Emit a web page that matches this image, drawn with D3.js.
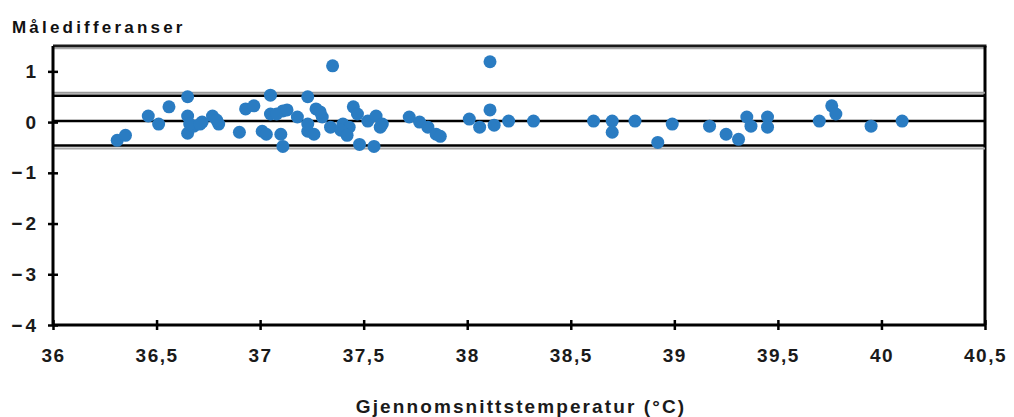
<!DOCTYPE html>
<html>
<head>
<meta charset="utf-8">
<script src="https://cdn.jsdelivr.net/npm/d3@7"></script>
<style>
  body { margin: 0; background: #fff; }
  svg { display: block; font-family: "Liberation Sans", Arial, sans-serif; }
</style>
</head>
<body>
<svg id="chart" width="1014" height="417"></svg>
<script>
// data
var temps = [36.31, 36.35, 36.46, 36.51, 36.56, 36.65, 36.65, 36.65, 36.68, 36.72,
  36.77, 36.80, 36.90, 36.93, 36.97, 37.05, 37.05, 37.01, 37.11, 37.10,
  37.11, 37.18, 37.23, 37.23, 37.27, 37.30, 37.34, 37.26, 37.35, 37.40,
  37.45, 37.43, 37.48, 37.55, 37.52, 37.56, 37.59, 37.72, 37.77, 37.81,
  37.85, 37.87, 38.11, 38.01, 38.11, 38.06, 38.13, 38.20, 38.32, 38.61,
  38.70, 38.70, 38.81, 38.92, 38.99, 39.17, 39.25, 39.31, 39.35, 39.37,
  39.45, 39.45, 39.70, 39.76, 39.78, 39.95, 40.10,
  36.66, 36.71, 36.79, 37.03, 37.08, 37.13, 37.23, 37.29, 37.39, 37.42,
  37.47, 37.58];
var diffs = [-0.36, -0.26, 0.12, -0.04, 0.30, 0.50, 0.12, -0.22, -0.08, 0.00,
  0.12, -0.04, -0.20, 0.26, 0.32, 0.53, 0.16, -0.18, 0.22, -0.24,
  -0.48, 0.10, 0.50, -0.18, 0.26, 0.10, -0.10, -0.24, 1.11, -0.04,
  0.30, -0.10, -0.44, -0.48, 0.02, 0.12, -0.04, 0.10, 0.00, -0.10,
  -0.24, -0.28, 1.19, 0.06, 0.24, -0.10, -0.06, 0.02, 0.02, 0.02,
  0.02, -0.20, 0.02, -0.40, -0.04, -0.08, -0.24, -0.34, 0.10, -0.08,
  0.10, -0.10, 0.02, 0.32, 0.16, -0.08, 0.02,
  -0.04, -0.04, 0.04, -0.24, 0.16, 0.24, -0.04, 0.20, -0.16, -0.26,
  0.16, -0.10];
var refLines = [0.52, 0.02, -0.46];   // upper limit, mean, lower limit
var xTicks = [36, 36.5, 37, 37.5, 38, 38.5, 39, 39.5, 40, 40.5];
var yTicks = [-4, -3, -2, -1, 0, 1];

var svg = d3.select('#chart');
// plot box (note: "top" is taken by window.top, so use m* names)
var mLeft = 53, mRight = 985, mTop = 46, mBottom = 325;

var xScale = d3.scaleLinear().domain([36, 40.5]).range([mLeft, mRight]);
var yScale = d3.scaleLinear().domain([-4, 1.5]).range([mBottom, mTop]);

function fmt(d) { return String(d).replace('.', ',').replace('-', '\u2212'); }

// frame top and right
svg.append('line').attr('x1', mLeft).attr('x2', mRight + 1.5).attr('y1', mTop).attr('y2', mTop)
  .attr('stroke', '#1a1a1a').attr('stroke-width', 3);
svg.append('line').attr('x1', mLeft).attr('x2', mRight).attr('y1', mTop + 2.5).attr('y2', mTop + 2.5)
  .attr('stroke', '#aaa').attr('stroke-width', 1.5);
svg.append('line').attr('x1', mRight).attr('x2', mRight).attr('y1', mTop).attr('y2', mBottom)
  .attr('stroke', '#000').attr('stroke-width', 3);

// grey shadow next to the limit lines like in the scan
svg.append('line').attr('x1', mLeft).attr('x2', mRight)
  .attr('y1', yScale(refLines[0]) - 3).attr('y2', yScale(refLines[0]) - 3)
  .attr('stroke', '#999').attr('stroke-width', 2);
svg.append('line').attr('x1', mLeft).attr('x2', mRight)
  .attr('y1', yScale(refLines[2]) + 3).attr('y2', yScale(refLines[2]) + 3)
  .attr('stroke', '#aaa').attr('stroke-width', 2);

// reference lines
svg.selectAll('.ref').data(refLines).enter().append('line')
  .attr('class', 'ref')
  .attr('x1', mLeft).attr('x2', mRight)
  .attr('y1', function(d){ return yScale(d); })
  .attr('y2', function(d){ return yScale(d); })
  .attr('stroke', '#000').attr('stroke-width', 2.5);

// points
var pts = temps.map(function(t, i){ return {x: t, y: diffs[i]}; });
svg.selectAll('circle').data(pts).enter().append('circle')
  .attr('cx', function(d){ return xScale(d.x); })
  .attr('cy', function(d){ return yScale(d.y); })
  .attr('r', 6.5)
  .style('fill', '#2a7cc2');

// axes
var yAxis = d3.axisLeft(yScale).tickValues(yTicks).tickFormat(fmt).tickSize(5).tickPadding(9);
var gy = svg.append('g').attr('transform', 'translate(' + mLeft + ',0)').call(yAxis);
var xAxis = d3.axisBottom(xScale).tickValues(xTicks).tickFormat(fmt).tickSize(5).tickPadding(19);
var gx = svg.append('g').attr('transform', 'translate(0,' + mBottom + ')').call(xAxis);

[gx, gy].forEach(function(g){
  g.select('.domain').attr('stroke', '#000').attr('stroke-width', 3);
  g.selectAll('.tick line').attr('stroke', '#000').attr('stroke-width', 2.5);
  g.selectAll('.tick text').attr('fill', '#1a1a1a')
    .style('font-size', '19px').style('font-weight', 'bold').style('letter-spacing', '1.5px');
});
gy.selectAll('.tick text').style('letter-spacing', '3px');
// ticks cross the axis
gy.selectAll('.tick line').attr('x1', 5);
gx.selectAll('.tick line').attr('y1', -5);
gy.select('.domain').attr('d', 'M0,' + mTop + 'V' + mBottom);
gx.select('.domain').attr('d', 'M' + mLeft + ',0H' + mRight);

// titles
svg.append('text').attr('x', 12).attr('y', 33)
  .style('font-size', '17px').style('font-weight', 'bold').style('letter-spacing', '3.2px')
  .attr('fill', '#111')
  .text('Måledifferanser');
svg.append('text').attr('x', 521).attr('y', 413).attr('text-anchor', 'middle')
  .style('font-size', '19px').style('font-weight', 'bold').style('letter-spacing', '2.1px')
  .attr('fill', '#1a1a1a')
  .text('Gjennomsnittstemperatur (°C)');
</script>
</body>
</html>
